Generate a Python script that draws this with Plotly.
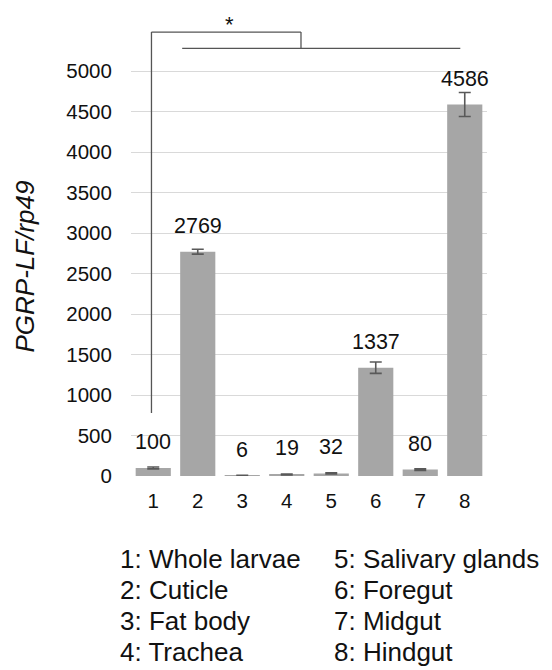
import plotly.graph_objects as go

categories = [1, 2, 3, 4, 5, 6, 7, 8]
values = [100, 2769, 6, 19, 32, 1337, 80, 4586]
errors = [12, 30, 3, 5, 6, 70, 10, 148]
y_ticks = [0, 500, 1000, 1500, 2000, 2500, 3000, 3500, 4000, 4500, 5000]
legend_col1 = ["1: Whole larvae", "2: Cuticle", "3: Fat body", "4: Trachea"]
legend_col2 = ["5: Salivary glands", "6: Foregut", "7: Midgut", "8: Hindgut"]

FONT = "Liberation Sans, Arial, sans-serif"
L, T, PW, PH = 123, 2, 356, 466   # plot area in figure pixels


def px_x(x):
    return (x - L) / PW


def px_y(y):
    return (T + PH - y) / PH


fig = go.Figure()
fig.add_trace(go.Bar(
    x=categories, y=values,
    marker=dict(color="#a6a6a6", line=dict(width=0)),
    error_y=dict(type="data", array=errors, visible=True,
                 color="#595959", thickness=1.6, width=6),
    showlegend=False,
))

# data labels
for c, v in zip(categories, values):
    fig.add_annotation(x=c, y=v, text=str(v), showarrow=False,
                       xref="x", yref="y", xanchor="center", yanchor="bottom", yshift=12,
                       font=dict(family=FONT, size=21.5, color="#111"))

# significance bracket
line = dict(color="#555555", width=1.3)
fig.add_shape(type="line", xref="x", yref="y", x0=0.96, x1=0.96, y0=778, y1=5481, line=line)
fig.add_shape(type="line", xref="x", yref="y", x0=0.96, x1=4.32, y0=5481, y1=5481, line=line)
fig.add_shape(type="line", xref="x", yref="y", x0=4.32, x1=4.32, y0=5481, y1=5280, line=line)
fig.add_shape(type="line", xref="x", yref="y", x0=1.65, x1=7.9, y0=5280, y1=5280, line=line)
fig.add_annotation(x=2.72, y=5574, text="*", showarrow=False, xref="x", yref="y",
                   xanchor="center", yanchor="middle",
                   font=dict(family=FONT, size=22, color="#111"))

# y-axis title
fig.add_annotation(x=px_x(16), y=px_y(258.5), xref="paper", yref="paper",
                   text="<i>PGRP-LF/rp49</i>", textangle=-90, showarrow=False,
                   xanchor="center", yanchor="middle",
                   font=dict(family=FONT, size=26, color="#111"))

# category key
row_px = [550.5, 581.5, 612.5, 643.5]
for i, (a, b) in enumerate(zip(legend_col1, legend_col2)):
    yp = px_y(row_px[i])
    fig.add_annotation(x=px_x(110), y=yp, xref="paper", yref="paper", text=a,
                       xanchor="left", yanchor="middle", showarrow=False,
                       font=dict(family=FONT, size=26, color="#111"))
    fig.add_annotation(x=px_x(324), y=yp, xref="paper", yref="paper", text=b,
                       xanchor="left", yanchor="middle", showarrow=False,
                       font=dict(family=FONT, size=26, color="#111"))

fig.update_layout(
    width=552, height=670,
    margin=dict(l=L, r=552 - L - PW, t=T, b=670 - T - PH),
    paper_bgcolor="white", plot_bgcolor="white",
    bargap=0.21,
    font=dict(family=FONT, color="#111"),
    xaxis=dict(range=[0.5, 8.5], tickvals=categories, ticktext=[str(c) for c in categories],
               showgrid=False, zeroline=False, showline=False,
               ticks="outside", ticklen=6, tickcolor="rgba(0,0,0,0)",
               tickfont=dict(family=FONT, size=20.5, color="#111")),
    yaxis=dict(range=[0, PH / 0.081], tickvals=y_ticks, ticktext=[str(t) for t in y_ticks],
               showgrid=True, gridcolor="#d9d9d9", gridwidth=1.4,
               zeroline=False, showline=False,
               ticks="outside", ticklen=14, tickcolor="rgba(0,0,0,0)",
               tickfont=dict(family=FONT, size=20.5, color="#111")),
)

fig.write_html("out.html")
